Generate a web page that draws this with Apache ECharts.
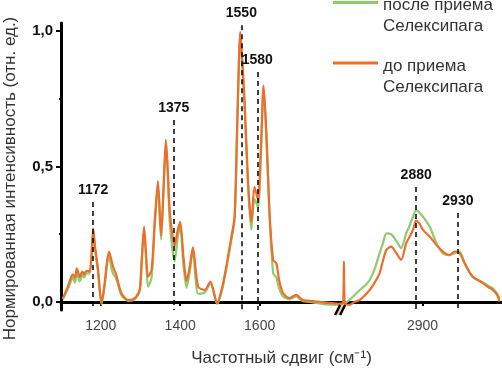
<!DOCTYPE html>
<html>
<head>
<meta charset="utf-8">
<script src="https://cdn.jsdelivr.net/npm/echarts@6/dist/echarts.min.js"></script>
<style>
  html, body { margin: 0; padding: 0; background: #fff; }
  #chart { width: 502px; height: 369px; }
</style>
</head>
<body>
<div id="chart"></div>
<script>
// левая часть спектра (см-1)
const leftWave = [1105, 1118, 1126, 1130, 1135, 1140, 1147, 1154, 1158, 1164, 1172, 1177, 1181, 1186, 1193, 1202, 1210, 1216, 1221, 1226, 1231, 1239, 1252, 1269, 1286, 1298, 1303, 1309, 1314, 1319, 1328, 1336, 1344, 1352, 1358, 1364, 1369, 1374, 1386, 1393, 1400, 1408, 1416, 1424, 1432, 1445, 1462, 1476, 1493, 1505, 1516, 1529, 1537, 1543, 1548, 1551, 1556, 1562, 1571, 1579, 1587, 1596, 1603, 1610, 1617, 1625, 1634, 1642, 1649, 1659, 1675, 1692, 1708, 1726, 1751, 1776, 1801];
const beforeLeft = [0.014, 0.06, 0.093, 0.102, 0.089, 0.124, 0.092, 0.112, 0.102, 0.115, 0.112, 0.18, 0.272, 0.2, 0.124, -0.005, 0.07, 0.15, 0.186, 0.16, 0.13, 0.10, 0.032, 0.007, 0.014, 0.044, 0.15, 0.278, 0.18, 0.093, 0.118, 0.3, 0.446, 0.244, 0.42, 0.598, 0.48, 0.33, 0.207, 0.26, 0.296, 0.17, 0.077, 0.13, 0.201, 0.056, 0.044, 0.075, -0.005, 0.05, 0.13, 0.241, 0.315, 0.624, 0.9, 0.997, 0.9, 0.745, 0.439, 0.296, 0.425, 0.376, 0.56, 0.80, 0.624, 0.328, 0.155, 0.143, 0.081, 0.032, 0.014, 0.026, 0.007, 0.004, 0.0, -0.004, -0.007];
const afterLeft = [0.01, 0.05, 0.08, 0.09, 0.07, 0.11, 0.075, 0.10, 0.09, 0.105, 0.105, 0.17, 0.26, 0.19, 0.11, -0.01, 0.06, 0.14, 0.17, 0.13, 0.105, 0.085, 0.025, 0.004, 0.01, 0.04, 0.14, 0.265, 0.16, 0.056, 0.09, 0.28, 0.43, 0.23, 0.40, 0.59, 0.46, 0.29, 0.149, 0.23, 0.28, 0.14, 0.052, 0.11, 0.19, 0.03, 0.035, 0.07, -0.008, 0.04, 0.12, 0.23, 0.30, 0.61, 0.89, 0.99, 0.88, 0.72, 0.42, 0.266, 0.38, 0.35, 0.54, 0.79, 0.60, 0.31, 0.106, 0.09, 0.05, 0.02, 0.01, 0.02, 0.003, 0.0, -0.006, -0.01, -0.01];

// правая часть спектра (после разрыва оси)
const rightWave = [2700, 2702, 2704, 2716, 2729, 2742, 2755, 2767, 2779, 2792, 2800, 2809, 2821, 2834, 2846, 2859, 2867, 2876, 2884, 2892, 2901, 2918, 2935, 2951, 2968, 2981, 2993, 3006, 3016, 3027, 3040, 3052, 3065, 3077, 3088, 3094];
const beforeRight = [-0.005, 0.15, -0.005, -0.011, 0.0, 0.007, 0.025, 0.044, 0.07, 0.106, 0.15, 0.192, 0.204, 0.18, 0.155, 0.217, 0.24, 0.266, 0.30, 0.29, 0.266, 0.241, 0.21, 0.186, 0.173, 0.186, 0.18, 0.143, 0.115, 0.093, 0.08, 0.069, 0.055, 0.044, 0.025, 0.001];
const afterRight = [-0.005, -0.003, -0.004, 0.007, 0.025, 0.044, 0.06, 0.081, 0.12, 0.18, 0.215, 0.253, 0.25, 0.225, 0.198, 0.253, 0.28, 0.315, 0.339, 0.33, 0.315, 0.278, 0.217, 0.18, 0.173, 0.18, 0.186, 0.143, 0.115, 0.09, 0.08, 0.072, 0.06, 0.05, 0.03, 0.01];

// пики
const peakLabels = ['1172', '1375', '1550', '1580', '2880', '2930'];
const peakAt = [1181, 1384, 1554, 1594, 2884, 2989];
const peakTop = [0.369, 0.672, 1.022, 0.849, 0.424, 0.328];

const xMajor = [1200, 1400, 1600, 2900];
const xMinor = [1300, 1500, 1700, 2800, 3000];
const yMajor = [0, 0.5, 1];
const yMinor = [0.25, 0.75];

const seriesNames = ['после приема\nСелексипага', 'до приема\nСелексипага'];
const greenColor = '#8fcb6b';
const orangeColor = '#ef6d2a';

// разрыв оси: правая часть сдвигается влево
const shift = 890;
const breakAt = 1805;
const toAxis = w => (w > 2000 ? w - shift : w);
const fromAxis = v => (v > breakAt ? v + shift : v);

const yMin = -0.03;
const FONT = "'Liberation Sans', Arial, sans-serif";

function pairs(xs, ys) {
  return xs.map((x, i) => [toAxis(x), ys[i]]);
}

const afterData = pairs(leftWave, afterLeft).concat(pairs(rightWave, afterRight));
const beforeData = pairs(leftWave, beforeLeft).concat(pairs(rightWave, beforeRight));

const peakLines = peakLabels.map((lab, i) => [
  { name: lab, coord: [toAxis(peakAt[i]), peakTop[i]] },
  { coord: [toAxis(peakAt[i]), yMin] },
]);

const chart = echarts.init(document.getElementById('chart'));
const option = {
  animation: false,
  textStyle: { fontFamily: FONT },
  grid: { left: 61, right: 0, top: 23, bottom: 59, outerBoundsMode: 'none', containLabel: false },
  legend: {
    orient: 'vertical',
    left: 333,
    top: -32,
    padding: 0,
    itemGap: -8.5,
    itemWidth: 45,
    itemHeight: 3,
    icon: 'rect',
    data: seriesNames,
    formatter: name => '{gap| }\n' + name,
    textStyle: {
      fontFamily: FONT,
      fontSize: 17,
      lineHeight: 21,
      color: '#333',
      rich: {
        gap: { fontSize: 10, lineHeight: 27 },
      },
    },
  },
  xAxis: [
    {
      type: 'value',
      min: 1100,
      max: 2210,
      splitLine: { show: false },
      axisLine: { lineStyle: { color: '#000', width: 3 } },
      axisTick: { customValues: xMajor.map(toAxis), length: 4, lineStyle: { color: '#000', width: 2 } },
      axisLabel: {
        customValues: xMajor.map(toAxis),
        formatter: v => String(Math.round(fromAxis(v))),
        fontSize: 14,
        color: '#444',
        margin: 9,
      },
      name: 'Частотный сдвиг (см⁻¹)',
      nameLocation: 'middle',
      nameGap: 40,
      nameTextStyle: { fontSize: 17, color: '#333', fontFamily: FONT },
    },
    {
      type: 'value',
      min: 1100,
      max: 2210,
      position: 'bottom',
      splitLine: { show: false },
      axisLine: { show: false },
      axisTick: { customValues: xMinor.map(toAxis), length: 2, lineStyle: { color: '#000', width: 2 } },
      axisLabel: { show: false },
    },
  ],
  yAxis: [
    {
      type: 'value',
      min: yMin,
      max: 1.03,
      splitLine: { show: false },
      axisLine: { show: true, lineStyle: { color: '#000', width: 3 } },
      axisTick: { show: true, customValues: yMajor, length: 5, lineStyle: { color: '#000', width: 2 } },
      axisLabel: {
        customValues: yMajor,
        formatter: v => v.toFixed(1).replace('.', ','),
        fontSize: 15,
        fontWeight: 'bold',
        color: '#111',
        margin: 8,
      },
      name: 'Нормированная интенсивность (отн. ед.)',
      nameLocation: 'middle',
      nameGap: 42,
      nameTextStyle: { fontSize: 17, color: '#333', fontFamily: FONT, padding: [0, 24, 0, 0] },
    },
    {
      type: 'value',
      min: yMin,
      max: 1.03,
      position: 'left',
      splitLine: { show: false },
      axisLine: { show: false },
      axisTick: { show: true, customValues: yMinor, length: 2, lineStyle: { color: '#000', width: 2 } },
      axisLabel: { show: false },
    },
  ],
  series: [
    {
      name: seriesNames[0],
      type: 'line',
      data: afterData,
      showSymbol: false,
      smooth: 0.25,
      color: greenColor,
      lineStyle: { width: 2.2, color: greenColor },
      z: 2,
    },
    {
      name: seriesNames[1],
      type: 'line',
      data: beforeData,
      showSymbol: false,
      smooth: 0.25,
      color: orangeColor,
      lineStyle: { width: 2.2, color: orangeColor },
      z: 3,
      markLine: {
        silent: true,
        symbol: ['none', 'none'],
        lineStyle: { color: '#000', type: [5, 4], width: 1.5 },
        label: {
          show: true,
          position: 'start',
          formatter: '{b}',
          fontWeight: 'bold',
          fontSize: 14,
          color: '#111',
          distance: 5,
          fontFamily: FONT,
        },
        data: peakLines,
      },
    },
  ],
};

option && chart.setOption(option);

// значки разрыва оси
const bx = chart.convertToPixel({ xAxisIndex: 0 }, breakAt);
const by = chart.convertToPixel({ yAxisIndex: 0 }, yMin);
chart.setOption({
  graphic: [
    {
      type: 'polygon',
      z: 100,
      shape: { points: [[bx - 6, by + 5], [bx - 1, by - 5], [bx + 4, by - 5], [bx - 1, by + 5]] },
      style: { fill: '#f5c9b8' },
    },
    {
      type: 'line',
      z: 101,
      shape: { x1: bx - 6, y1: by + 5, x2: bx - 1, y2: by - 5 },
      style: { stroke: '#000', lineWidth: 2.5 },
    },
    {
      type: 'line',
      z: 101,
      shape: { x1: bx - 1, y1: by + 5, x2: bx + 4, y2: by - 5 },
      style: { stroke: '#000', lineWidth: 2.5 },
    },
  ],
});
</script>
</body>
</html>
